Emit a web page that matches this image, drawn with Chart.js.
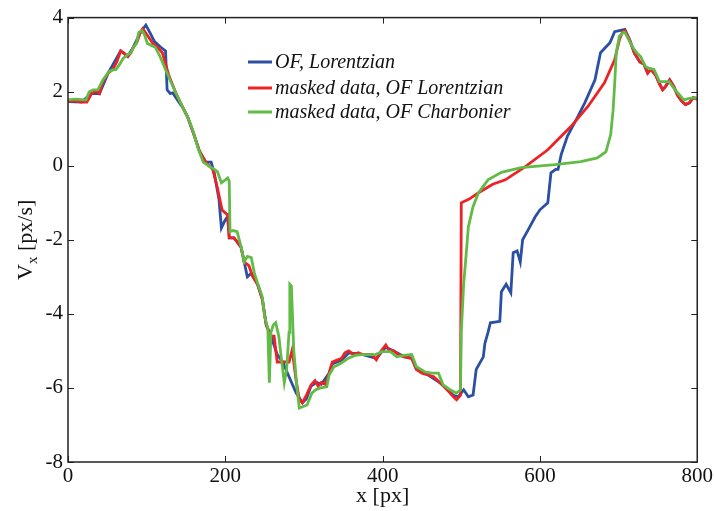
<!DOCTYPE html>
<html>
<head>
<meta charset="utf-8">
<script src="https://cdn.jsdelivr.net/npm/chart.js@4"></script>
<style>
  html, body { margin: 0; padding: 0; background: #fff; }
  #wrap { width: 715px; height: 511px; position: relative; }
</style>
</head>
<body>
<div id="wrap"><canvas id="vxChart"></canvas></div>
<script>
// series names, in legend order
const seriesNames = ['OF, Lorentzian', 'masked data, OF Lorentzian', 'masked data, OF Charbonier'];
const seriesColors = ['#2a4fa3', '#ec2227', '#62bb46'];

// axis ticks
const xTicks = [0, 200, 400, 600, 800];
const yTicks = [-8, -6, -4, -2, 0, 2, 4];

// OF, Lorentzian (blue)
const blueX = [0, 17, 30, 40, 51, 67, 76, 83, 92, 99, 104, 110, 118, 124, 126, 130, 133, 140, 146, 152, 160, 167, 175, 182, 186, 192, 195, 199, 203, 205, 211, 220, 224, 228, 233, 241, 247, 252, 258, 266, 273, 281, 290, 298, 303, 309, 316, 322, 332, 336, 348, 357, 375, 392, 404, 414, 427, 437, 443, 458, 473, 490, 496, 503, 509, 515, 519, 528, 530, 534, 537, 549, 551, 557, 563, 566, 571, 575, 578, 585, 594, 600, 610, 614, 620, 623, 627, 635, 648, 657, 670, 677, 689, 695, 708, 714, 720, 727, 732, 737, 741, 747, 756, 760, 765, 770, 775, 780, 785, 790, 795, 800];
const blueY = [1.73, 1.72, 1.95, 1.95, 2.5, 3.1, 2.95, 3.2, 3.6, 3.8, 3.6, 3.35, 3.2, 3.1, 2.05, 1.95, 1.97, 1.75, 1.57, 1.32, 0.85, 0.4, 0.1, 0.1, -0.2, -0.92, -1.68, -1.5, -1.37, -1.95, -1.95, -2.2, -2.6, -3.0, -2.9, -3.2, -3.6, -4.3, -4.6, -5.1, -5.3, -5.7, -6.13, -6.4, -6.3, -5.95, -5.85, -5.9, -5.6, -5.35, -5.25, -5.05, -5.1, -5.2, -4.9, -5.0, -5.15, -5.2, -5.5, -5.65, -5.86, -6.2, -6.24, -6.05, -6.24, -6.19, -5.5, -5.16, -4.8, -4.5, -4.24, -4.2, -3.4, -3.2, -3.43, -2.35, -2.3, -2.6, -2.0, -1.73, -1.38, -1.19, -1.0, -0.19, -0.1, -0.1, 0.3, 0.8, 1.32, 1.7, 2.32, 3.05, 3.32, 3.62, 3.68, 3.4, 3.05, 2.8, 2.75, 2.5, 2.6, 2.45, 2.05, 2.15, 2.32, 2.15, 1.9, 1.75, 1.65, 1.7, 1.84, 1.8];

// masked data, OF Lorentzian (red)
const redX = [0, 8, 17, 24, 30, 36, 40, 44, 51, 57, 62, 67, 71, 76, 80, 83, 88, 92, 95, 100, 108, 114, 120, 128, 137, 146, 152, 160, 167, 175, 184, 190, 196, 203, 205, 211, 215, 220, 224, 230, 235, 241, 247, 252, 258, 262, 266, 273, 281, 285, 290, 294, 298, 303, 309, 314, 318, 322, 327, 332, 336, 342, 348, 352, 357, 363, 369, 375, 380, 386, 392, 398, 404, 408, 414, 420, 427, 437, 443, 450, 458, 465, 473, 482, 490, 494, 499, 500, 510, 522, 540, 556, 581, 610, 639, 661, 682, 695, 701, 705, 708, 714, 720, 727, 732, 737, 741, 747, 752, 756, 760, 765, 770, 775, 780, 785, 790, 795, 800];
const redY = [1.73, 1.76, 1.72, 1.72, 1.95, 2.02, 1.95, 2.25, 2.5, 2.6, 2.8, 3.1, 3.05, 2.95, 3.05, 3.2, 3.35, 3.6, 3.7, 3.55, 3.3, 3.2, 3.05, 2.45, 1.97, 1.57, 1.32, 0.85, 0.4, 0.1, -0.1, -0.6, -1.2, -1.33, -1.95, -1.95, -2.05, -2.2, -2.6, -2.7, -3.0, -3.2, -3.6, -4.3, -4.6, -4.6, -5.3, -5.3, -5.3, -4.97, -5.8, -6.3, -6.4, -6.2, -5.92, -5.8, -5.95, -5.85, -5.9, -5.6, -5.3, -5.25, -5.2, -5.05, -5.0, -5.1, -5.05, -5.1, -5.1, -5.1, -5.24, -5.0, -4.84, -4.98, -5.0, -5.1, -5.16, -5.2, -5.5, -5.6, -5.65, -5.7, -5.86, -6.05, -6.24, -6.32, -6.2, -1.0, -0.9, -0.73, -0.5, -0.38, -0.03, 0.43, 1.05, 1.6, 2.24, 2.86, 3.4, 3.62, 3.65, 3.4, 3.05, 2.8, 2.75, 2.5, 2.6, 2.45, 2.2, 2.05, 2.15, 2.32, 2.15, 1.9, 1.75, 1.65, 1.7, 1.84, 1.8];

// masked data, OF Charbonier (green)
const greenX = [0, 10, 20, 23, 27, 32, 38, 44, 52, 56, 61, 66, 70, 76, 80, 83, 87, 90, 94, 97, 101, 106, 111, 117, 124, 130, 137, 142, 146, 152, 158, 166, 172, 180, 186, 190, 195, 200, 203, 205, 206, 210, 215, 220, 224, 228, 233, 237, 241, 247, 250, 254, 256, 258, 261, 264, 268, 271, 275, 278, 281, 282, 284, 287, 291, 294, 299, 304, 310, 315, 321, 329, 332, 338, 343, 348, 357, 365, 373, 382, 391, 399, 410, 418, 427, 437, 443, 454, 463, 471, 477, 486, 494, 499, 500, 503, 506, 509, 515, 522, 534, 551, 576, 619, 652, 673, 684, 690, 693, 695, 697, 701, 706, 708, 713, 718, 723, 728, 734, 740, 745, 752, 758, 764, 770, 775, 783, 790, 797, 800];
const greenY = [1.78, 1.8, 1.78, 1.78, 2.0, 2.05, 2.05, 2.3, 2.54, 2.58, 2.6, 2.75, 2.9, 3.0, 3.05, 3.2, 3.3, 3.6, 3.65, 3.55, 3.3, 3.25, 3.2, 2.95, 2.6, 2.3, 1.97, 1.75, 1.57, 1.32, 1.0, 0.43, 0.1, -0.02, -0.1, -0.16, -0.46, -0.38, -0.33, -0.42, -1.78, -1.75, -1.78, -2.18, -2.6, -2.45, -2.48, -2.9, -3.17, -3.54, -4.08, -4.38, -5.86, -4.5, -4.3, -4.24, -4.6, -5.16, -5.86, -5.5, -4.5, -3.2, -3.25, -4.97, -5.97, -6.54, -6.5, -6.46, -6.14, -6.05, -6.0, -5.97, -5.65, -5.43, -5.38, -5.32, -5.19, -5.12, -5.1, -5.1, -5.1, -5.02, -5.02, -5.16, -5.12, -5.1, -5.43, -5.57, -5.6, -5.6, -5.92, -6.05, -6.14, -6.05, -4.5, -3.2, -2.45, -1.65, -1.1, -0.73, -0.38, -0.18, -0.05, 0.03, 0.11, 0.21, 0.38, 0.85, 1.5, 2.2, 3.05, 3.5, 3.6, 3.6, 3.4, 3.2, 3.05, 2.95, 2.68, 2.62, 2.6, 2.27, 2.27, 2.27, 2.1, 1.97, 1.78, 1.82, 1.84, 1.82];

function toPoints(xs, ys) {
  return xs.map((x, i) => ({ x: x, y: ys[i] }));
}

const serif = '"Liberation Serif", "Times New Roman", serif';

// box frame, inward ticks, legend and the axis titles
const matlabLook = {
  id: 'matlabLook',
  afterDraw(chart) {
    const c = chart.ctx;
    const a = chart.chartArea;
    const xs = chart.scales.x;
    const ys = chart.scales.y;
    c.save();
    c.strokeStyle = '#222';
    c.lineWidth = 1.5;
    c.strokeRect(a.left, a.top, a.right - a.left, a.bottom - a.top);
    c.lineWidth = 1;
    xTicks.forEach(v => {
      const px = Math.round(xs.getPixelForValue(v)) + 0.5;
      c.beginPath();
      c.moveTo(px, a.bottom); c.lineTo(px, a.bottom - 6);
      c.moveTo(px, a.top); c.lineTo(px, a.top + 6);
      c.stroke();
    });
    yTicks.forEach(v => {
      const py = Math.round(ys.getPixelForValue(v)) + 0.5;
      c.beginPath();
      c.moveTo(a.left, py); c.lineTo(a.left + 6, py);
      c.moveTo(a.right, py); c.lineTo(a.right - 6, py);
      c.stroke();
    });

    // legend
    const rows = [62, 88, 112];
    c.font = 'italic 20px ' + serif;
    c.textBaseline = 'middle';
    c.fillStyle = '#111';
    seriesNames.forEach((name, i) => {
      c.strokeStyle = seriesColors[i];
      c.lineWidth = 3;
      c.beginPath();
      c.moveTo(248, rows[i]); c.lineTo(272, rows[i]);
      c.stroke();
      c.fillText(name, 275, rows[i] + 1);
    });

    // x title
    c.font = '22px ' + serif;
    c.textAlign = 'center';
    c.fillText('x [px]', (a.left + a.right) / 2, 496);

    // y title with subscript
    c.translate(26, (a.top + a.bottom) / 2);
    c.rotate(-Math.PI / 2);
    c.textAlign = 'left';
    const big = '22px ' + serif, small = '15px ' + serif;
    c.font = big; const wV = c.measureText('V').width;
    c.font = small; const wx = c.measureText('x').width;
    c.font = big; const wRest = c.measureText(' [px/s]').width;
    let x0 = -(wV + wx + wRest) / 2;
    c.font = big; c.fillText('V', x0, 0);
    c.font = small; c.fillText('x', x0 + wV, 7);
    c.font = big; c.fillText(' [px/s]', x0 + wV + wx, 0);
    c.restore();
  }
};

const ctx = document.getElementById('vxChart').getContext('2d');

const chart = new Chart(ctx, {
  type: 'line',
  data: {
    datasets: [
      {
        label: seriesNames[2],
        data: toPoints(greenX, greenY),
        borderColor: seriesColors[2],
        borderWidth: 2.8
      },
      {
        label: seriesNames[1],
        data: toPoints(redX, redY),
        borderColor: seriesColors[1],
        borderWidth: 2.8
      },
      {
        label: seriesNames[0],
        data: toPoints(blueX, blueY),
        borderColor: seriesColors[0],
        borderWidth: 2.8
      }
    ]
  },
  options: {
    responsive: true,
    maintainAspectRatio: false,
    animation: false,
    elements: {
      point: { radius: 0 },
      line: { tension: 0, fill: false }
    },
    layout: {
      padding: { top: 17, right: 15, left: 0, bottom: 0 }
    },
    plugins: {
      legend: { display: false },
      tooltip: { enabled: false }
    },
    scales: {
      x: {
        type: 'linear',
        min: 0,
        max: 800,
        afterFit: s => { s.height = 49; },
        afterBuildTicks: s => { s.ticks = xTicks.map(v => ({ value: v })); },
        grid: { display: false, drawTicks: false },
        border: { display: false },
        ticks: {
          padding: 2,
          color: '#111',
          font: { family: serif, size: 21 }
        }
      },
      y: {
        type: 'linear',
        min: -8,
        max: 4,
        afterFit: s => { s.width = 68; },
        afterBuildTicks: s => { s.ticks = yTicks.map(v => ({ value: v })); },
        grid: { display: false, drawTicks: false },
        border: { display: false },
        ticks: {
          padding: 5,
          color: '#111',
          font: { family: serif, size: 21 }
        }
      }
    }
  },
  plugins: [matlabLook]
});
</script>
</body>
</html>
